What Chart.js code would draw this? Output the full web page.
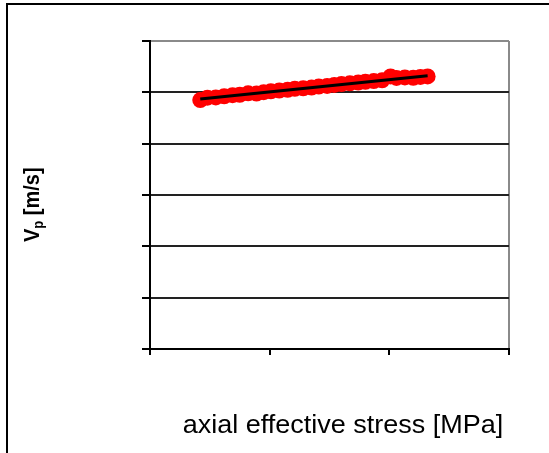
<!DOCTYPE html>
<html>
<head>
<meta charset="utf-8">
<script src="https://cdn.jsdelivr.net/npm/chart.js@4/dist/chart.umd.min.js"></script>
<style>
  html, body { margin: 0; padding: 0; background: #fff; overflow: hidden; }
  #wrap { position: relative; width: 549px; height: 453px; }
  #frame { position: absolute; left: 6px; top: 3px; width: 700px; height: 600px;
           border-top: 2px solid #000; border-left: 2px solid #000; }
  canvas { position: absolute; left: 0; top: 0; }
</style>
</head>
<body>
<div id="wrap">
  <div id="frame"></div>
  <canvas id="c" width="549" height="453"></canvas>
</div>
<script>
// Measured P-wave velocity vs. axial effective stress
const stressMPa = [4.2, 4.8, 5.5, 6.2, 6.9, 7.5, 8.2, 8.9, 9.5, 10.1,
                   10.8, 11.5, 12.1, 12.8, 13.5, 14.1, 14.8, 15.4, 16.0, 16.7,
                   17.4, 18.0, 18.7, 19.4, 20.1, 20.6, 21.3, 22.0, 22.6, 23.2];
const vpMs = [2425, 2448, 2450, 2462, 2472, 2476, 2490, 2488, 2502, 2510,
              2518, 2525, 2534, 2540, 2546, 2556, 2562, 2572, 2580, 2588,
              2596, 2603, 2610, 2618, 2655, 2640, 2645, 2642, 2650, 2655];

// Linear trend endpoints
const trendStress = [4.2, 23.2];
const trendVp = [2435, 2662];

// Axis ranges
const xRange = { min: 0, max: 30, step: 10 };
const yRange = { min: 0, max: 3000, step: 500 };

const xTitle = 'axial effective stress [MPa]';
const yTitleMain = 'V';
const yTitleSub = 'p';
const yTitleRest = ' [m/s]';

const toPoints = (xs, ys) => xs.map((x, i) => ({ x: x, y: ys[i] }));

const FONT = '"Liberation Sans", Arial, sans-serif';

const axisTitles = {
  id: 'axisTitles',
  afterDraw(chart) {
    const ctx = chart.ctx;
    ctx.save();
    ctx.fillStyle = '#000';
    ctx.textBaseline = 'alphabetic';

    // x title
    ctx.save();
    ctx.translate(343, 433);
    ctx.scale(1.08, 1);
    ctx.font = '25px ' + FONT;
    ctx.textAlign = 'center';
    ctx.fillText(xTitle, 0, 0);
    ctx.restore();

    // y title with subscript
    ctx.save();
    ctx.translate(39, 242);
    ctx.scale(1.1, 1);
    ctx.rotate(-Math.PI / 2);
    ctx.textAlign = 'left';
    ctx.font = 'bold 20px ' + FONT;
    ctx.fillText(yTitleMain, 0, 0);
    let x = ctx.measureText(yTitleMain).width;
    ctx.font = 'bold 13px ' + FONT;
    ctx.fillText(yTitleSub, x, 4);
    x += ctx.measureText(yTitleSub).width;
    ctx.font = 'bold 20px ' + FONT;
    ctx.fillText(yTitleRest, x, 0);
    ctx.restore();

    ctx.restore();
  }
};

new Chart(document.getElementById('c'), {
  type: 'scatter',
  data: {
    datasets: [
      {
        label: 'trend',
        data: toPoints(trendStress, trendVp),
        showLine: true,
        borderColor: '#000',
        borderWidth: 3,
        pointRadius: 0,
        order: 0
      },
      {
        label: 'Vp',
        data: toPoints(stressMPa, vpMs),
        backgroundColor: '#ff0000',
        borderColor: '#ff0000',
        borderWidth: 0,
        pointRadius: 8,
        order: 1
      }
    ]
  },
  options: {
    responsive: false,
    animation: false,
    devicePixelRatio: 1,
    layout: { autoPadding: false, padding: { left: 0, top: 41, right: 40, bottom: 0 } },
    plugins: { legend: { display: false }, tooltip: { enabled: false } },
    scales: {
      x: {
        type: 'linear',
        min: xRange.min, max: xRange.max,
        ticks: { display: false, stepSize: xRange.step },
        grid: {
          color: c => (c.tick && c.tick.value === xRange.max) ? '#8a8a8a' : 'rgba(0,0,0,0)',
          tickColor: '#000',
          lineWidth: 2,
          tickLength: 6
        },
        border: { color: '#000', width: 2 },
        afterFit: s => { s.height = 104; }
      },
      y: {
        type: 'linear',
        min: yRange.min, max: yRange.max,
        ticks: { display: false, stepSize: yRange.step },
        grid: {
          color: c => (c.tick && c.tick.value === yRange.max) ? '#8a8a8a' : '#222',
          tickColor: '#000',
          lineWidth: 2,
          tickLength: 8
        },
        border: { color: '#000', width: 2 },
        afterFit: s => { s.width = 150; }
      }
    }
  },
  plugins: [axisTitles]
});
</script>
</body>
</html>
